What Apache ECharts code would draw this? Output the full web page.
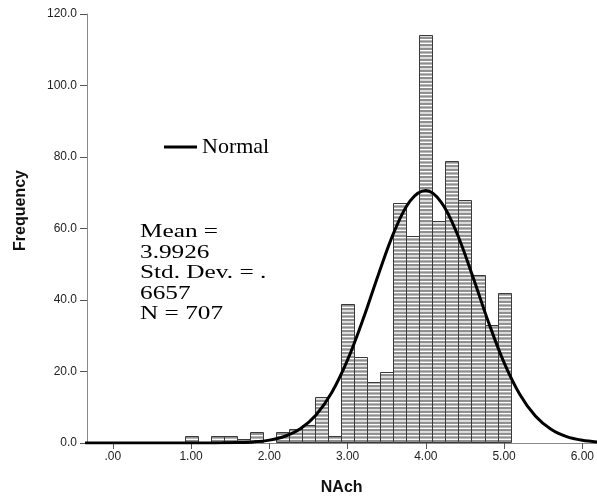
<!DOCTYPE html>
<html>
<head>
<meta charset="utf-8" />
<title>NAch histogram</title>
<style>
  html, body { margin: 0; padding: 0; background: #fff; }
  #chart { width: 597px; height: 501px; }
</style>
</head>
<body>
<div id="chart"></div>
<script src="https://cdn.jsdelivr.net/npm/echarts@6/dist/echarts.min.js"></script>
<script>
// bins are 1/6 wide, centred on k/6 (scores are means of six items)
var binCenters = [1.0, 1.1667, 1.3333, 1.5, 1.6667, 1.8333, 2.0, 2.1667, 2.3333, 2.5, 2.6667, 2.8333,
                  3.0, 3.1667, 3.3333, 3.5, 3.6667, 3.8333, 4.0, 4.1667, 4.3333, 4.5, 4.6667, 4.8333, 5.0];
var binCounts  = [2, 0, 2, 2, 1, 3, 0, 3, 4, 5, 13, 2,
                  39, 24, 17, 20, 67, 58, 114, 62, 79, 68, 47, 33, 42];
var binWidth = 1 / 6;

// fitted normal curve
var curveX = [-0.4, 1.2, 1.4, 1.6, 1.8, 2.0, 2.2, 2.4, 2.6, 2.8, 3.0, 3.2, 3.4, 3.6, 3.8, 4.0,
              4.2, 4.4, 4.6, 4.8, 5.0, 5.2, 5.4, 5.6, 5.8, 6.0, 6.2, 6.4];
var curveY = [0, 0.01, 0.04, 0.11, 0.31, 0.80, 1.88, 4.04, 7.92, 14.19, 23.23, 34.75, 47.51, 59.33, 67.71, 70.60,
              67.26, 58.54, 46.56, 33.84, 22.47, 13.63, 7.55, 3.83, 1.77, 0.75, 0.29, 0.10];

var xTicks = [0, 1, 2, 3, 4, 5, 6];
var xTickLabels = ['.00', '1.00', '2.00', '3.00', '4.00', '5.00', '6.00'];
var statsLines = ['Mean =', '3.9926', 'Std. Dev. = .', '6657', 'N = 707'];

// horizontal stripe fill like the SPSS bars
function stripePattern() {
  var c = document.createElement('canvas');
  c.width = 4; c.height = 11;
  var ctx = c.getContext('2d');
  ctx.fillStyle = '#ffffff';
  ctx.fillRect(0, 0, 4, 11);
  ctx.fillStyle = '#8f8f8f';
  for (var i = 0; i < 3; i++) {
    ctx.fillRect(0, i * 11 / 3, 4, 2.3);
  }
  return c;
}
var pattern = stripePattern();

var histData = [];
for (var i = 0; i < binCenters.length; i++) {
  if (binCounts[i] > 0) histData.push([binCenters[i], binCounts[i]]);
}
var curveData = [];
for (var j = 0; j < curveX.length; j++) curveData.push([curveX[j], curveY[j]]);

var chart = echarts.init(document.getElementById('chart'));
var axisFont = 'Liberation Sans, Arial, sans-serif';

var option = {
  animation: false,
  grid: { left: 87, right: 0, top: 14, bottom: 50 },
  legend: {
    left: 159, top: 131,
    itemWidth: 33, itemHeight: 3, itemGap: 4,
    data: [{ name: 'Normal', icon: 'rect' }],
    textStyle: { fontFamily: 'Liberation Serif, Times New Roman, serif', fontSize: 22, color: '#000' }
  },
  xAxis: {
    type: 'value',
    min: -0.33, max: 6.18,
    name: 'NAch',
    nameLocation: 'middle',
    nameGap: 37,
    nameTextStyle: { fontFamily: axisFont, fontSize: 16, fontWeight: 'bold', color: '#111' },
    splitLine: { show: false },
    axisLine: { onZero: false, lineStyle: { color: '#8a8a8a', width: 1 } },
    axisTick: { show: true, length: 6, customValues: xTicks, lineStyle: { color: '#555' } },
    axisLabel: {
      customValues: xTicks, margin: 8,
      fontFamily: axisFont, fontSize: 12, color: '#222',
      formatter: function (v) { return xTickLabels[xTicks.indexOf(Math.round(v))]; }
    }
  },
  yAxis: {
    type: 'value',
    min: 0, max: 120, interval: 20,
    name: 'Frequency',
    nameLocation: 'middle',
    nameGap: 58,
    nameTextStyle: { fontFamily: axisFont, fontSize: 16, fontWeight: 'bold', color: '#111', padding: [0, 0, 0, 36] },
    splitLine: { show: false },
    axisLine: { show: true, onZero: false, lineStyle: { color: '#8a8a8a', width: 1 } },
    axisTick: { show: true, length: 7, lineStyle: { color: '#555' } },
    axisLabel: {
      margin: 10, fontFamily: axisFont, fontSize: 12, color: '#222',
      formatter: function (v) { return v.toFixed(1); }
    }
  },
  graphic: [{
    type: 'text',
    left: 140, top: 222,
    scaleX: 1.33,
    style: {
      text: statsLines.join('\n'),
      font: '19px "Liberation Serif", "Times New Roman", serif',
      lineHeight: 20.5,
      fill: '#000'
    }
  }],
  series: [{
    name: 'Histogram',
    type: 'custom',
    data: histData,
    renderItem: function (params, api) {
      var x = api.value(0), y = api.value(1);
      var p0 = api.coord([x - binWidth / 2, y]);
      var p1 = api.coord([x + binWidth / 2, 0]);
      var left = Math.round(p0[0]), right = Math.round(p1[0]);
      var top = Math.round(p0[1]), bottom = Math.round(p1[1]);
      return {
        type: 'rect',
        shape: { x: left + 0.5, y: top + 0.5, width: right - left, height: bottom - top - 1 },
        style: { fill: { image: pattern, repeat: 'repeat' }, stroke: '#3a3a3a', lineWidth: 1 }
      };
    },
    encode: { x: 0, y: 1 },
    z: 2
  }, {
    name: 'Normal',
    type: 'line',
    data: curveData,
    smooth: 0.35,
    symbol: 'none',
    lineStyle: { color: '#000', width: 3 },
    itemStyle: { color: '#000' },
    z: 3
  }]
};
chart.setOption(option);
</script>
</body>
</html>
